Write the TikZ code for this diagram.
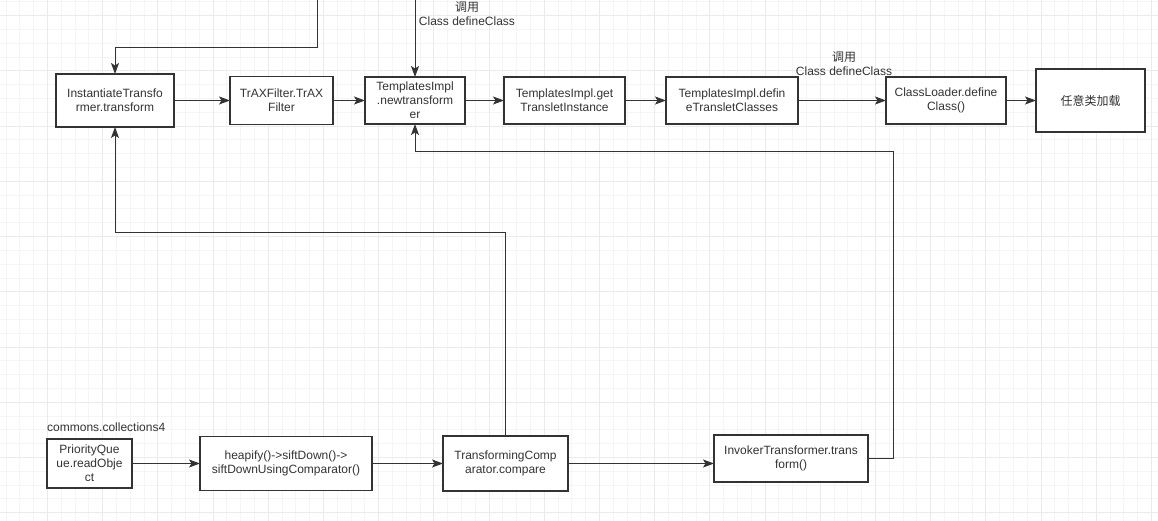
\documentclass[tikz,border=0pt]{standalone}
\usepackage{fontspec}
\setmainfont{Liberation Sans}
\newfontfamily\cjk{Noto Sans CJK SC}
\usetikzlibrary{arrows.meta, positioning}
\definecolor{ink}{HTML}{333333}

\begin{document}
\begin{tikzpicture}[
        x=1pt, y=-1pt,
        font=\fontsize{12}{14}\selectfont, text=ink,
        box/.style={draw=ink, line width=1.1pt, fill=white, inner sep=0pt, outer sep=0pt, align=center},
        lbl/.style={inner sep=0pt, align=center},
        arr/.style={-{Stealth[length=11pt, width=8pt, inset=2.5pt]}, line width=1pt, draw=ink}
    ]
        \useasboundingbox (0,0) rectangle (1158,521);
        % background grid
        \begin{scope}[shift={(47.4,15.7)}]
            \draw[gray!8, line width=0.8pt] (-47.4,-15.7) grid[step=13.8pt] (1110.6,505.3);
            \draw[gray!16, line width=0.8pt] (-47.4,-15.7) grid[step=55.2pt] (1110.6,505.3);
        \end{scope}

        % top row
        \node[box, minimum width=118pt, minimum height=53pt] (inst) at (115,100.5) {InstantiateTransfo\\rmer.transform};
        \node[box, minimum width=103pt, minimum height=48pt, right=56pt of inst]  (trax)    {TrAXFilter.TrAX\\Filter};
        \node[box, minimum width=100pt, minimum height=47pt, right=32pt of trax]  (tnew)    {TemplatesImpl\\.newtransform\\er};
        \node[box, minimum width=121pt, minimum height=47pt, right=39pt of tnew]  (tget)    {TemplatesImpl.get\\TransletInstance};
        \node[box, minimum width=132pt, minimum height=47pt, right=41pt of tget]  (tdef)    {TemplatesImpl.defin\\eTransletClasses};
        \node[box, minimum width=120pt, minimum height=47pt, right=88pt of tdef]  (loader)  {ClassLoader.define\\Class()};
        \node[box, minimum width=109pt, minimum height=63pt, right=30pt of loader] (anyload) {\cjk 任意类加载};

        % bottom row
        \node[box, minimum width=85pt, minimum height=49pt] (pq) at (89.5,463.5) {PriorityQue\\ue.readObje\\ct};
        \node[box, minimum width=172pt, minimum height=54pt, right=68pt of pq]   (heap) {heapify()->siftDown()->\\siftDownUsingComparator()};
        \node[box, minimum width=125pt, minimum height=55pt, right=71pt of heap] (tc)   {TransformingComp\\arator.compare};
        \node[box, minimum width=154pt, minimum height=47pt, right=146pt of tc, yshift=5pt] (inv) {InvokerTransformer.trans\\form()};
        \node[lbl, anchor=west] (pkg) at (47,427) {commons.collections4};

        % labels
        \node[lbl] (calla) at (467,14) {{\cjk 调用}\\Class defineClass};
        \node[lbl] (callb) at (844,64) {{\cjk 调用}\\Class defineClass};

        \coordinate (topa) at (317,0);
        \path (tnew.north |- topa) coordinate (topb);

        \draw[arr] (topa) -- ++(0,48) -| (inst.north);
        \draw[arr] (topb) -- (tnew.north);
        \draw[arr] (inst) -- (trax);
        \draw[arr] (trax) -- (tnew);
        \draw[arr] (tnew) -- (tget);
        \draw[arr] (tget) -- (tdef);
        \draw[arr] (tdef) -- (loader);
        \draw[arr] (loader) -- (anyload);

        \draw[arr] (pq) -- (heap);
        \draw[arr] (heap) -- (tc);
        \draw[arr] (tc.east) -- (tc.east -| inv.west);
        \draw[arr] (tc.north) -- ++(0,-203) -| (inst.south);
        \draw[arr] (inv.east) -- ++(25,0) -- ++(0,-307) -| (tnew.south);
    \end{tikzpicture}
\end{document}
